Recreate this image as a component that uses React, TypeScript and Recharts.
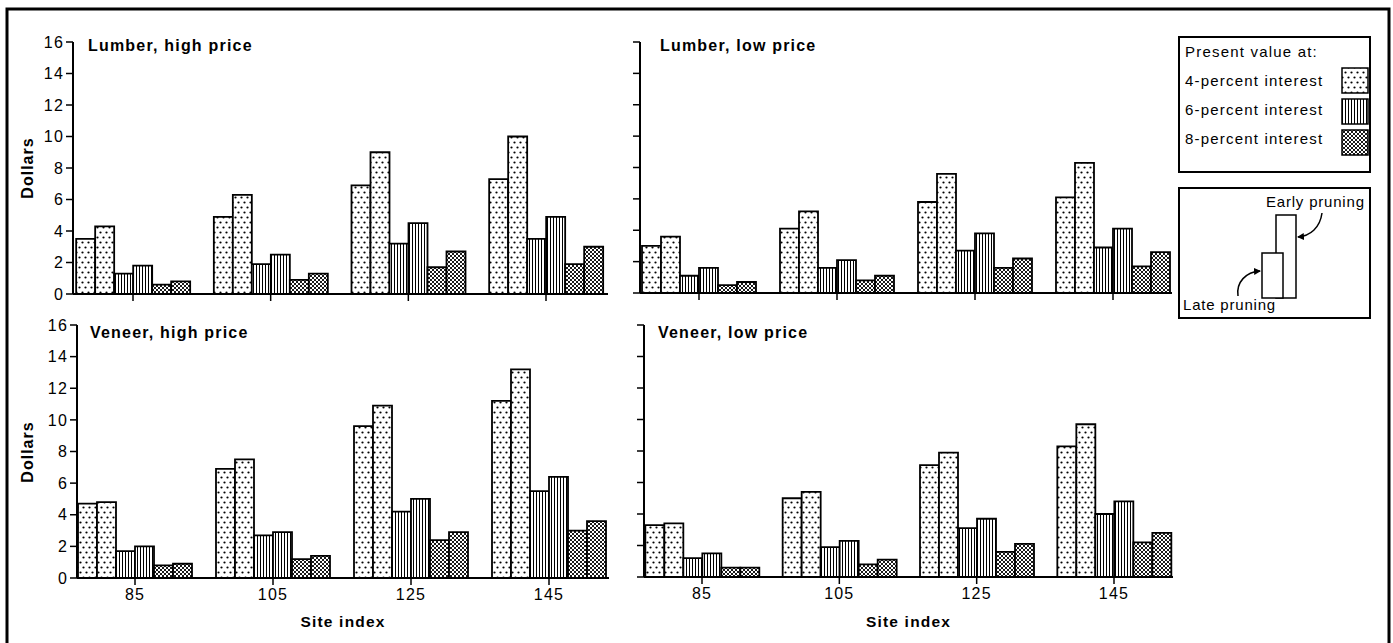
// Present value of pruning, four panels (lumber/veneer x high/low price).
// Six bars per site index: late and early pruning at 4, 6 and 8 percent interest.

import React from 'react';
import { BarChart, Bar, XAxis, YAxis, Label } from 'recharts';

const siteIndex = ['85', '105', '125', '145'];
const yTicks = [0, 2, 4, 6, 8, 10, 12, 14, 16];

// Lumber, high price
const lumberHighLate4 = [3.5, 4.9, 6.9, 7.3];
const lumberHighEarly4 = [4.3, 6.3, 9.0, 10.0];
const lumberHighLate6 = [1.3, 1.9, 3.2, 3.5];
const lumberHighEarly6 = [1.8, 2.5, 4.5, 4.9];
const lumberHighLate8 = [0.6, 0.9, 1.7, 1.9];
const lumberHighEarly8 = [0.8, 1.3, 2.7, 3.0];

// Lumber, low price
const lumberLowLate4 = [3.0, 4.1, 5.8, 6.1];
const lumberLowEarly4 = [3.6, 5.2, 7.6, 8.3];
const lumberLowLate6 = [1.1, 1.6, 2.7, 2.9];
const lumberLowEarly6 = [1.6, 2.1, 3.8, 4.1];
const lumberLowLate8 = [0.5, 0.8, 1.6, 1.7];
const lumberLowEarly8 = [0.7, 1.1, 2.2, 2.6];

// Veneer, high price
const veneerHighLate4 = [4.7, 6.9, 9.6, 11.2];
const veneerHighEarly4 = [4.8, 7.5, 10.9, 13.2];
const veneerHighLate6 = [1.7, 2.7, 4.2, 5.5];
const veneerHighEarly6 = [2.0, 2.9, 5.0, 6.4];
const veneerHighLate8 = [0.8, 1.2, 2.4, 3.0];
const veneerHighEarly8 = [0.9, 1.4, 2.9, 3.6];

// Veneer, low price
const veneerLowLate4 = [3.3, 5.0, 7.1, 8.3];
const veneerLowEarly4 = [3.4, 5.4, 7.9, 9.7];
const veneerLowLate6 = [1.2, 1.9, 3.1, 4.0];
const veneerLowEarly6 = [1.5, 2.3, 3.7, 4.8];
const veneerLowLate8 = [0.6, 0.8, 1.6, 2.2];
const veneerLowEarly8 = [0.6, 1.1, 2.1, 2.8];

const legendItems = ['4-percent interest', '6-percent interest', '8-percent interest'];

const FONT = '"Liberation Sans", Arial, Helvetica, sans-serif';

const series = [
  { key: 'late4', fill: 'url(#dots)' },
  { key: 'early4', fill: 'url(#dots)' },
  { key: 'late6', fill: 'url(#vlines)' },
  { key: 'early6', fill: 'url(#vlines)' },
  { key: 'late8', fill: 'url(#xhatch)' },
  { key: 'early8', fill: 'url(#xhatch)' },
];
const swatchFills = ['url(#dots)', 'url(#vlines)', 'url(#xhatch)'];

function rows(l4: number[], e4: number[], l6: number[], e6: number[], l8: number[], e8: number[]) {
  return siteIndex.map((site, i) => ({
    site, late4: l4[i], early4: e4[i], late6: l6[i], early6: e6[i], late8: l8[i], early8: e8[i],
  }));
}

const panels = [
  {
    title: 'Lumber, high price',
    data: rows(lumberHighLate4, lumberHighEarly4, lumberHighLate6, lumberHighEarly6, lumberHighLate8, lumberHighEarly8),
    axisX: 73, first: 133, last: 546, right: 608, top: 42, bottom: 294, chartTop: 0,
    yLabels: true, xLabels: false, titleX: 88, titleY: 51,
  },
  {
    title: 'Lumber, low price',
    data: rows(lumberLowLate4, lumberLowEarly4, lumberLowLate6, lumberLowEarly6, lumberLowLate8, lumberLowEarly8),
    axisX: 640, first: 699, last: 1113, right: 1172, top: 42, bottom: 293, chartTop: 0,
    yLabels: false, xLabels: false, titleX: 660, titleY: 51,
  },
  {
    title: 'Veneer, high price',
    data: rows(veneerHighLate4, veneerHighEarly4, veneerHighLate6, veneerHighEarly6, veneerHighLate8, veneerHighEarly8),
    axisX: 77, first: 135, last: 549, right: 609, top: 325, bottom: 578, chartTop: 300,
    yLabels: true, xLabels: true, titleX: 90, titleY: 338,
  },
  {
    title: 'Veneer, low price',
    data: rows(veneerLowLate4, veneerLowEarly4, veneerLowLate6, veneerLowEarly6, veneerLowLate8, veneerLowEarly8),
    axisX: 644, first: 702, last: 1114, right: 1173, top: 325, bottom: 577, chartTop: 300,
    yLabels: false, xLabels: true, titleX: 658, titleY: 338,
  },
];

type Panel = typeof panels[number];

const tickStyle = { fill: '#000', fontSize: 16, fontFamily: FONT, letterSpacing: 1.2 };
const blank = () => '';

function PanelChart({ p }: { p: Panel }) {
  const yAxisW = 70;
  const left = p.axisX - yAxisW;
  const band = (p.last - p.first) / 3;
  const padL = p.first - band / 2 - p.axisX;
  const padR = p.right - (p.last + band / 2);
  const width = p.right - left + 12;
  const height = p.xLabels ? 335 : 302;
  const xAxisH = height - (p.bottom - p.chartTop);

  return (
    <div style={{ position: 'absolute', left, top: p.chartTop }}>
      <BarChart
        width={width}
        height={height}
        data={p.data}
        margin={{ top: p.top - p.chartTop, right: 12, bottom: 0, left: 0 }}
        barGap={0}
        barCategoryGap={12}
      >
        <XAxis
          dataKey="site"
          type="category"
          interval={0}
          padding={{ left: padL, right: padR }}
          height={xAxisH}
          tickSize={7}
          tickMargin={4}
          axisLine={{ stroke: '#000', strokeWidth: 2 }}
          tickLine={{ stroke: '#000', strokeWidth: 1.5 }}
          tick={tickStyle}
          tickFormatter={p.xLabels ? undefined : blank}
        >
          {p.xLabels && (
            <Label
              value="Site index"
              position="insideBottom"
              offset={8}
              fill="#000"
              fontSize={15.5}
              fontWeight="bold"
              fontFamily={FONT}
              letterSpacing={1.2}
            />
          )}
        </XAxis>
        <YAxis
          type="number"
          domain={[0, 16]}
          ticks={yTicks}
          interval={0}
          width={yAxisW}
          tickSize={7}
          tickMargin={2}
          axisLine={{ stroke: '#000', strokeWidth: 2 }}
          tickLine={{ stroke: '#000', strokeWidth: 1.5 }}
          tick={tickStyle}
          tickFormatter={p.yLabels ? undefined : blank}
        />
        {series.map(s => (
          <Bar
            key={s.key}
            dataKey={s.key}
            fill={s.fill}
            stroke="#000"
            strokeWidth={1.8}
            isAnimationActive={false}
          />
        ))}
      </BarChart>
    </div>
  );
}

function Overlay() {
  const txt = { fontFamily: FONT, fill: '#000' } as const;
  return (
    <svg width={1393} height={643} style={{ position: 'absolute', left: 0, top: 0, pointerEvents: 'none' }}>
      <defs>
        <pattern id="dots" width="6" height="10" patternUnits="userSpaceOnUse">
          <rect width="6" height="10" fill="#fff" />
          <circle cx="1.5" cy="2.5" r="1.1" fill="#000" />
          <circle cx="4.5" cy="7.5" r="1.1" fill="#000" />
        </pattern>
        <pattern id="vlines" width="3" height="3" patternUnits="userSpaceOnUse">
          <rect width="3" height="3" fill="#fff" />
          <rect x="1" width="1" height="3" fill="#000" />
        </pattern>
        <pattern id="xhatch" width="4" height="4" patternUnits="userSpaceOnUse">
          <rect width="4" height="4" fill="#fff" />
          <path d="M0,0L4,4M4,0L0,4M-1,3L1,5M3,-1L5,1M-1,1L1,-1M3,5L5,3" stroke="#000" strokeWidth="0.9" />
        </pattern>
        <marker id="arrow" markerWidth="8" markerHeight="8" refX="6" refY="4" orient="auto" markerUnits="userSpaceOnUse">
          <path d="M0,0.5L7,4L0,7.5Z" fill="#000" />
        </marker>
      </defs>

      {/* frame */}
      <path d="M7,643L7,9L1389,9L1389,643" fill="none" stroke="#000" strokeWidth={3} />

      {/* panel titles */}
      {panels.map(p => (
        <text key={p.title} x={p.titleX} y={p.titleY} fontSize={16} fontWeight="bold" letterSpacing={1.2} {...txt}>{p.title}</text>
      ))}

      {/* y axis titles */}
      <text x={27} y={168} transform="rotate(-90 27 168)" textAnchor="middle" dominantBaseline="central"
        fontSize={16} fontWeight="bold" letterSpacing={1} {...txt}>Dollars</text>
      <text x={27} y={452} transform="rotate(-90 27 452)" textAnchor="middle" dominantBaseline="central"
        fontSize={16} fontWeight="bold" letterSpacing={1} {...txt}>Dollars</text>

      {/* legend: patterns */}
      <rect x={1179} y={37} width={191} height={135} fill="#fff" stroke="#000" strokeWidth={2} />
      <text x={1185} y={57} fontSize={15} letterSpacing={1.2} {...txt}>Present value at:</text>
      {legendItems.map((label, i) => (
        <g key={label}>
          <text x={1185} y={86 + i * 29} fontSize={15} letterSpacing={1.2} {...txt}>{label}</text>
          <rect x={1342} y={68 + i * 31} width={26} height={25} fill={swatchFills[i]} stroke="#000" strokeWidth={1.5} />
        </g>
      ))}

      {/* legend: late vs early pruning */}
      <rect x={1179} y={188} width={191} height={130} fill="#fff" stroke="#000" strokeWidth={2} />
      <rect x={1276} y={215} width={20} height={83} fill="#fff" stroke="#000" strokeWidth={1.5} />
      <rect x={1262} y={253} width={21} height={45} fill="#fff" stroke="#000" strokeWidth={1.5} />
      <text x={1266} y={207} fontSize={15} letterSpacing={0.8} {...txt}>Early pruning</text>
      <text x={1183} y={310} fontSize={15} letterSpacing={0.8} {...txt}>Late pruning</text>
      <path d="M1322,213C1320,228 1310,236 1298,237" fill="none" stroke="#000" strokeWidth={1.5} markerEnd="url(#arrow)" />
      <path d="M1238,296C1236,282 1246,272 1260,271" fill="none" stroke="#000" strokeWidth={1.5} markerEnd="url(#arrow)" />
    </svg>
  );
}

export default function App() {
  return (
    <div style={{ position: 'absolute', left: 0, top: 0, width: 1393, height: 643, background: '#fff', overflow: 'hidden' }}>
      <Overlay />
      {panels.map(p => (
        <PanelChart key={p.title} p={p} />
      ))}
    </div>
  );
}
